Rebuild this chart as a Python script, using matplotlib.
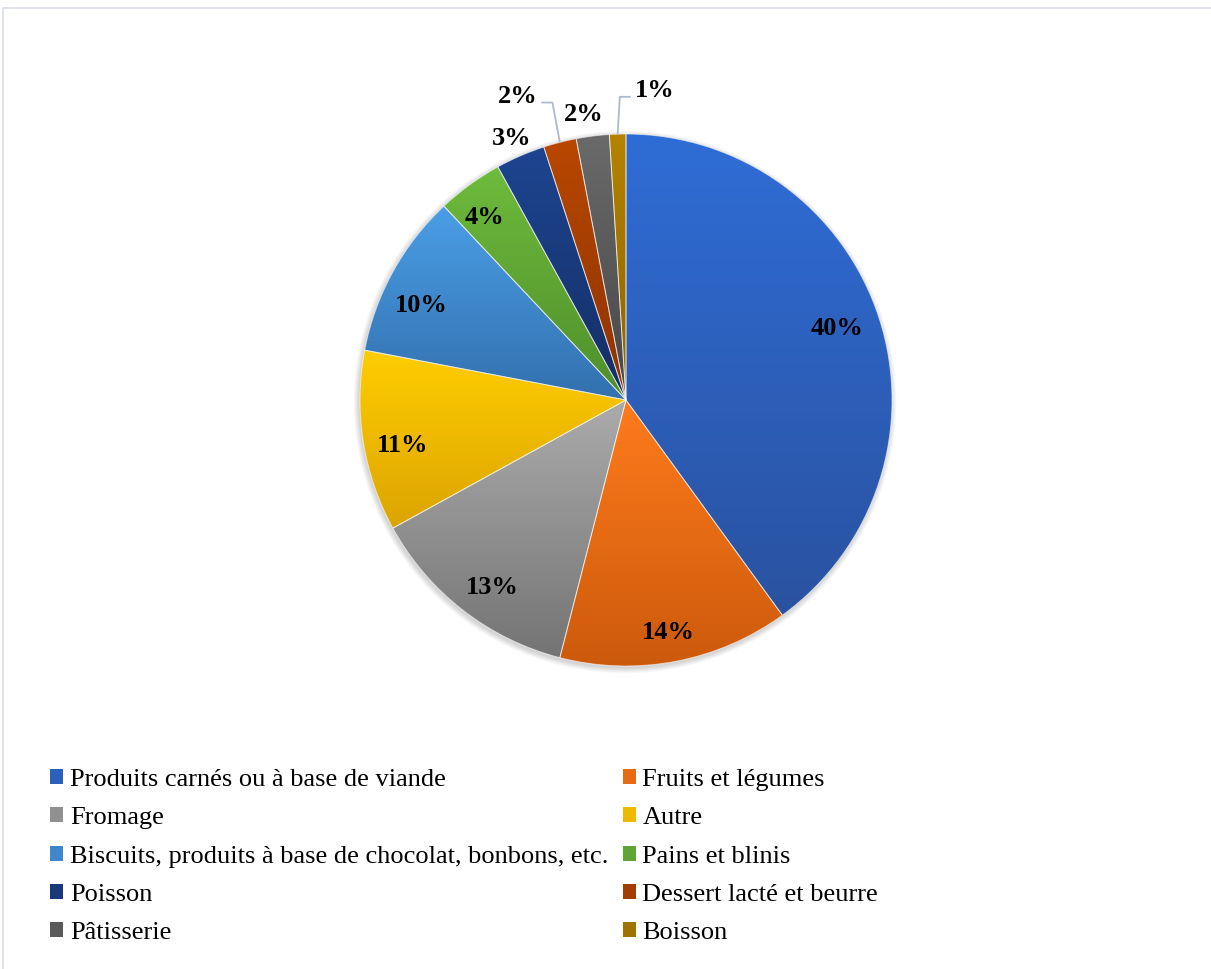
import numpy as np
import matplotlib
matplotlib.use("Agg")
import matplotlib.pyplot as plt
from matplotlib.patches import Patch, Circle
from matplotlib.colors import to_rgb

categories = [
    "Produits carnés ou à base de viande",
    "Fruits et légumes",
    "Fromage",
    "Autre",
    "Biscuits, produits à base de chocolat, bonbons, etc.",
    "Pains et blinis",
    "Poisson",
    "Dessert lacté et beurre",
    "Pâtisserie",
    "Boisson",
]
shares = [40, 14, 13, 11, 10, 4, 3, 2, 2, 1]

# gradient fill per slice: (top colour, bottom colour)
top_colors = ["#2F6DD6", "#FF7B1C", "#ABABAB", "#FFCD00", "#4A9EE6",
              "#6EBB3C", "#1D4590", "#B94700", "#6A6A6A", "#B58300"]
bottom_colors = ["#2A52A0", "#CC5A0C", "#747474", "#DCA400", "#3370AE",
                 "#4F8E2C", "#152E66", "#8C3300", "#474747", "#8A6300"]

# percentage label placement: fraction of radius, angle shift from slice middle
label_dist = [0.838, 0.883, 0.861, 0.857, 0.85, 0.872, 1.08, 1.217, 1.089, 1.173]
label_shift = [1.1, -0.3, 2.2, 2.1, 3.7, 1.7, 0.1, 5.2, 1.1, -7.1]
with_leader = {7, 9}

plt.rcParams["font.family"] = ["Liberation Serif", "DejaVu Serif"]

W, H = 1211, 969
fig = plt.figure(figsize=(W / 100, H / 100), dpi=100)
ax = fig.add_axes([0, 0, 1, 1])

cx, cy, R = 626, 569, 266

# soft shadow under the pie
for k in range(7):
    ax.add_patch(Circle((cx - 1, cy - 2), R + 0.5 + k * 0.8, facecolor="black",
                        edgecolor="none", alpha=0.025, zorder=0.5))

wedges, _ = ax.pie(shares, center=(cx, cy), radius=R, startangle=90,
                   counterclock=False, frame=True,
                   wedgeprops=dict(edgecolor=(1, 1, 1, 0.55), linewidth=0.7))

for w, c_top, c_bot in zip(wedges, top_colors, bottom_colors):
    w.set_zorder(2)
    bb = w.get_path().get_extents()
    t = np.linspace(0, 1, 256)[:, None]
    grad = (1 - t) * np.array(to_rgb(c_top)) + t * np.array(to_rgb(c_bot))
    img = ax.imshow(grad[:, None, :], extent=[bb.x0, bb.x1, bb.y0, bb.y1],
                    origin="upper", aspect="auto", zorder=1.9)
    img.set_clip_path(w)
    w.set_facecolor("none")

lead_color = "#AEBACB"
for i, (w, v) in enumerate(zip(wedges, shares)):
    mid = (w.theta1 + w.theta2) / 2
    ang = np.deg2rad(mid + label_shift[i])
    lx = cx + R * label_dist[i] * np.cos(ang)
    ly = cy + R * label_dist[i] * np.sin(ang) - 1.5
    if i in with_leader:
        ex = cx + R * np.cos(np.deg2rad(mid))
        ey = cy + R * np.sin(np.deg2rad(mid))
        side = 1 if lx < ex else -1
        tx = lx + side * 24
        elbow_x = tx + side * 11
        line_y = ly - 6
        ax.plot([tx, elbow_x, ex], [line_y, line_y, ey], color=lead_color,
                lw=1.3, solid_capstyle="butt", zorder=5)
    ax.text(lx, ly, f"{v}%", ha="center", va="center", fontsize=19,
            fontweight="bold", color="black", zorder=6)

# light frame along the top and left edge
ax.plot([3, 3, W + 5], [-5, 961, 961], color="#D9DEE5", lw=1.2, zorder=1)

# legend, filled row by row in two columns
handles = [Patch(facecolor=tuple((np.array(to_rgb(a)) + np.array(to_rgb(b))) / 2),
                 edgecolor="none") for a, b in zip(top_colors, bottom_colors)]
order = [0, 2, 4, 6, 8, 1, 3, 5, 7, 9]
ax.legend([handles[k] for k in order], [categories[k] for k in order],
          ncol=2, loc="upper left", bbox_to_anchor=(50, H - 769),
          bbox_transform=ax.transData, frameon=False, fontsize=19,
          borderpad=0, borderaxespad=0, handlelength=0.5, handleheight=0.5,
          handletextpad=0.25, labelspacing=0.617, columnspacing=0.55)

ax.set_xlim(0, W)
ax.set_ylim(0, H)
ax.set_aspect("auto")
ax.axis("off")

fig.savefig("out.png", dpi=100, facecolor="white")
